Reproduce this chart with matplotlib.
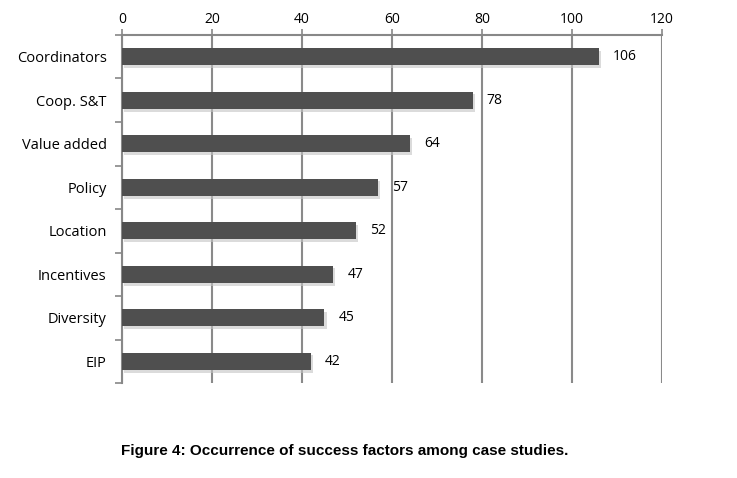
import matplotlib
matplotlib.use("Agg")
import matplotlib.pyplot as plt
import matplotlib.patheffects as pe
import numpy as np

categories = ["Coordinators", "Coop. S&T", "Value added", "Policy", "Location",
              "Incentives", "Diversity", "EIP"]
values = [106, 78, 64, 57, 52, 47, 45, 42]
xticks = [0, 20, 40, 60, 80, 100, 120]

fig = plt.figure(figsize=(7.37, 4.78), dpi=100)
ax = fig.add_axes([0.1655, 0.1987, 0.898 - 0.1655, 0.9268 - 0.1987])

y = np.arange(len(categories))
bars = ax.barh(y, values, height=0.40, color="#4f4f4f", zorder=3,
               path_effects=[pe.SimplePatchShadow(offset=(1.5, -2), shadow_rgbFace="#c4c4c4", alpha=0.6),
                             pe.Normal()])
ax.set_ylim(len(categories) - 0.5, -0.5)
ax.set_xlim(0, 120)
ax.xaxis.tick_top()
ax.set_xticks(xticks)
ax.set_xticklabels([str(t) for t in xticks])
ax.tick_params(axis="x", which="major", length=4, width=1.2, color="#888888", pad=2,
               labelsize=10, direction="out")
ax.grid(axis="x", color="#8a8a8a", linewidth=1.5, zorder=0)

ax.set_yticks(y)
ax.set_yticklabels(categories)
ax.set_yticks(np.arange(-0.5, len(categories) + 0.5, 1), minor=True)
ax.tick_params(axis="y", which="major", length=0, pad=11, labelsize=10.5)
ax.tick_params(axis="y", which="minor", length=5, width=1.2, color="#888888")

for sp in ["right", "bottom"]:
    ax.spines[sp].set_visible(False)
for sp in ["left", "top"]:
    ax.spines[sp].set_color("#888888")
    ax.spines[sp].set_linewidth(1.5)

for yi, v in zip(y, values):
    ax.annotate(str(v), (v, yi), xytext=(10, 0), textcoords="offset points",
                va="center", ha="left", fontsize=10)

for lab in ax.get_xticklabels() + ax.get_yticklabels():
    lab.set_family("Open Sans")
for t in ax.texts:
    t.set_family("Open Sans")

fig.text(0.468, 0.056, "Figure 4: Occurrence of success factors among case studies.",
         ha="center", va="center", fontsize=11, fontweight="bold", family="Liberation Sans")

fig.savefig("out.png", dpi=100)
